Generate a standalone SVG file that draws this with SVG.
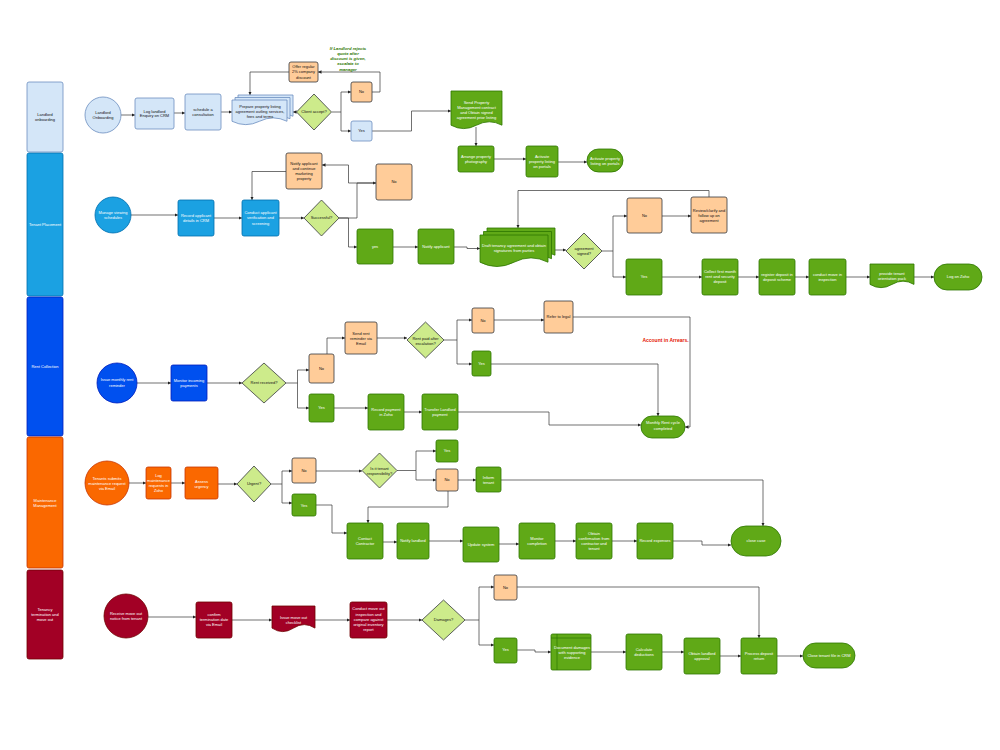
<svg xmlns="http://www.w3.org/2000/svg" width="1000" height="750" viewBox="0 0 1000 750">
<defs>
<style>
.lb{fill:#d4e6f8;stroke:#6c8ebf;stroke-width:0.8}
.cy{fill:#1ba1e2;stroke:#006eaf;stroke-width:0.8}
.bl{fill:#0050ef;stroke:#001dbc;stroke-width:0.8}
.or{fill:#fa6800;stroke:#c73500;stroke-width:0.8}
.rd{fill:#a20025;stroke:#6f0000;stroke-width:0.8}
.gr{fill:#60a917;stroke:#2d7600;stroke-width:0.8}
.pe{fill:#ffcc99;stroke:#36393d;stroke-width:0.8}
.dm{fill:#cdeb8b;stroke:#36393d;stroke-width:0.8}
.t{font-family:"Liberation Sans",Arial,sans-serif;font-size:4px;text-anchor:middle}
.w{fill:#ffffff}
.k{fill:#111111}
.c{fill:none;stroke:#333333;stroke-width:0.7;marker-end:url(#a)}
.n{fill:none;stroke:#2d7600;stroke-width:0.7}
.note{font-family:"Liberation Sans",Arial,sans-serif;font-size:4.2px;font-weight:bold;font-style:italic;fill:#2d7600;text-anchor:middle}
.red{font-family:"Liberation Sans",Arial,sans-serif;font-size:5px;font-weight:bold;fill:#e51400;text-anchor:middle}
</style>
<marker id="a" viewBox="0 0 6 6" refX="6" refY="3" markerWidth="3.5" markerHeight="3.5" markerUnits="userSpaceOnUse" orient="auto"><path d="M0 0L6 3L0 6z" fill="#222"/></marker>
</defs>
<rect width="1000" height="750" fill="#ffffff"/>

<g id="lanes">
<g id="lane1"><rect class="lb" x="27" y="82" width="36" height="70" rx="2"/><text class="t k" x="45" y="116.1">Landlord<tspan x="45" dy="4.8">onboarding</tspan></text></g>
<g id="lane2"><rect class="cy" x="27" y="153" width="36" height="143" rx="2"/><text class="t w" x="45" y="226">Tenant Placement</text></g>
<g id="lane3"><rect class="bl" x="27" y="297" width="36" height="139" rx="2"/><text class="t w" x="45" y="368">Rent Collection</text></g>
<g id="lane4"><rect class="or" x="27" y="437" width="36" height="131" rx="2"/><text class="t w" x="45" y="502">Maintenance<tspan x="45" dy="4.8">Management</tspan></text></g>
<g id="lane5"><rect class="rd" x="27" y="570" width="36" height="89" rx="2"/><text class="t w" x="45" y="611">Tenancy<tspan x="45" dy="4.8">termination and</tspan><tspan x="45" dy="4.8">move out</tspan></text></g>
</g>

<g id="connectors">
<path class="c" d="M121 115H135"/>
<path class="c" d="M174 113H185"/>
<path class="c" d="M221 112H232"/>
<path class="c" d="M297 112H293"/>
<path class="c" d="M332 112H341V92H351"/>
<path class="c" d="M341 112V131H351"/>
<path class="c" d="M372 92H380V72H318"/>
<path class="c" d="M289 72H250V95"/>
<path class="c" d="M372 131H411.5V111H451"/>
<path class="c" d="M476 127V146"/>
<path class="c" d="M494 159H526"/>
<path class="c" d="M558 162H587"/>

<path class="c" d="M131 215H178"/>
<path class="c" d="M214 218H242"/>
<path class="c" d="M279 218H304"/>
<path class="c" d="M339 218H357V183H376"/>
<path class="c" d="M376 183H348.5V165H322"/>
<path class="c" d="M339 218H348.5V247H357"/>
<path class="c" d="M286 171.5H252V200"/>
<path class="c" d="M393 247H418"/>
<path class="c" d="M454 247H467V248.5H480"/>
<path class="c" d="M548 250H566"/>
<path class="c" d="M602 251H613V216H627"/>
<path class="c" d="M613 251V277H626"/>
<path class="c" d="M662 216H691"/>
<path class="c" d="M709 197V190.5H518V228"/>
<path class="c" d="M662 277H702"/>
<path class="c" d="M738 277H759"/>
<path class="c" d="M795 277H809"/>
<path class="c" d="M846 277H870"/>
<path class="c" d="M914 277H934"/>

<path class="c" d="M137 383H171"/>
<path class="c" d="M207 383H242"/>
<path class="c" d="M286 383H297.5V370H309"/>
<path class="c" d="M297.5 383V408H309"/>
<path class="c" d="M327 354V338H345"/>
<path class="c" d="M377 338H407"/>
<path class="c" d="M444 340H457V320H472"/>
<path class="c" d="M457 340V364H472"/>
<path class="c" d="M494 320H544"/>
<path class="c" d="M573 317H690V427H685"/>
<path class="c" d="M491 364H658V416"/>
<path class="c" d="M334 408H368"/>
<path class="c" d="M404 412H422"/>
<path class="c" d="M458 412H549V425H641"/>

<path class="c" d="M129 483H146"/>
<path class="c" d="M171 483H185"/>
<path class="c" d="M218 484H237"/>
<path class="c" d="M271 484H282V471H292"/>
<path class="c" d="M282 484V503H292"/>
<path class="c" d="M316 471H362"/>
<path class="c" d="M397 470.5H416V451H436"/>
<path class="c" d="M416 470.5V480H436"/>
<path class="c" d="M458 480H476"/>
<path class="c" d="M448 491V507H368V523"/>
<path class="c" d="M501 480H763V526"/>
<path class="c" d="M316 505H332V533H347"/>
<path class="c" d="M383 542H397"/>
<path class="c" d="M429 541H463"/>
<path class="c" d="M499 544H519"/>
<path class="c" d="M555 541H576"/>
<path class="c" d="M612 541H637"/>
<path class="c" d="M673 541H702V545H731"/>

<path class="c" d="M148 617H196"/>
<path class="c" d="M232 620H272"/>
<path class="c" d="M315 620H350"/>
<path class="c" d="M387 620H422"/>
<path class="c" d="M465 620H479V587H494"/>
<path class="c" d="M479 620V645H494"/>
<path class="c" d="M517 587H759V638"/>
<path class="c" d="M517 650H535V652H551"/>
<path class="c" d="M591 652H626"/>
<path class="c" d="M662 652H684"/>
<path class="c" d="M720 656H741"/>
<path class="c" d="M777 656H803"/>
</g>

<g id="n-landlord-onboarding"><circle class="lb" cx="103" cy="115" r="18"/><text class="t k" x="103" y="114.1">Landlord<tspan x="103" dy="4.8">Onboarding</tspan></text></g>
<g id="n-log-enquiry"><rect class="lb" x="135" y="98" width="39" height="31" rx="2"/><text class="t k" x="154.5" y="112.6">Log landlord<tspan x="154.5" dy="4.8">Enquiry on CRM</tspan></text></g>
<g id="n-schedule"><rect class="lb" x="185" y="94" width="36" height="36" rx="2"/><text class="t k" x="203" y="111.1">schedule a<tspan x="203" dy="4.8">consultation</tspan></text></g>
<g id="n-prepare">
<path class="lb" d="M238 95H293V116.25Q279.25 109.5 265.5 116.25Q251.75 123 238 116.25Z"/>
<path class="lb" d="M235 97.5H290V118.75Q276.25 112 262.5 118.75Q248.75 125.5 235 118.75Z"/>
<path class="lb" d="M232 100H287V121.25Q273.25 114.5 259.5 121.25Q245.75 128 232 121.25Z"/>
<text class="t k" x="260" y="108">Prepare property listing<tspan x="260" dy="5">agreement outling services,</tspan><tspan x="260" dy="5">fees and terms</tspan></text></g>
<g id="n-client-accept"><polygon class="dm" points="314,94 331.5,112 314,130 296.5,112"/><text class="t k" x="314" y="113.4">Client accept?</text></g>
<g id="n-l1-no"><rect class="pe" x="351" y="82" width="21" height="20" rx="2"/><text class="t k" x="361.5" y="93.4">No</text></g>
<g id="n-l1-yes"><rect class="lb" x="351" y="121" width="21" height="20" rx="2"/><text class="t k" x="361.5" y="132.4">Yes</text></g>
<g id="n-offer"><rect class="pe" x="289" y="62" width="29" height="20" rx="2"/><text class="t k" x="303.5" y="68.1">Offer regular<tspan x="303.5" dy="5.2">2% company</tspan><tspan x="303.5" dy="5.2">discount</tspan></text></g>
<g id="n-note"><text class="note" x="348" y="49.7">If Landlord rejects<tspan x="348" dy="5.2">quote after</tspan><tspan x="348" dy="5.2">discount is given,</tspan><tspan x="348" dy="5.2">escalate to</tspan><tspan x="348" dy="5.2">manager</tspan></text></g>
<g id="n-send-contract"><path class="gr" d="M451 91H502V125.2Q489.25 118.4 476.5 125.2Q463.75 132 451 125.2Z"/><text class="t w" x="476.5" y="103.7">Send Property<tspan x="476.5" dy="5.2">Management contract</tspan><tspan x="476.5" dy="5.2">and Obtain signed</tspan><tspan x="476.5" dy="5.2">agreement prior listing</tspan></text></g>
<g id="n-arrange-photo"><rect class="gr" x="458" y="146" width="36" height="26" rx="2"/><text class="t w" x="476" y="158">Arrange property<tspan x="476" dy="5.2">photography</tspan></text></g>
<g id="n-activate"><rect class="gr" x="526" y="146" width="32" height="31" rx="2"/><text class="t w" x="542" y="158">Activate<tspan x="542" dy="5">property listing</tspan><tspan x="542" dy="5">on portals</tspan></text></g>
<g id="n-activate-end"><rect class="gr" x="587" y="149" width="36" height="23" rx="11.5"/><text class="t w" x="605" y="159.7">Activate property<tspan x="605" dy="5">listing on portals</tspan></text></g>

<g id="n-manage-viewing"><circle class="cy" cx="113" cy="215" r="18"/><text class="t w" x="113" y="214">Manage viewing<tspan x="113" dy="5.4">schedules</tspan></text></g>
<g id="n-record-applicant"><rect class="cy" x="178" y="200" width="36" height="36" rx="2"/><text class="t w" x="196" y="217.4">Record applicant<tspan x="196" dy="4.8">details in CRM</tspan></text></g>
<g id="n-conduct-screening"><rect class="cy" x="242" y="200" width="37" height="36" rx="2"/><text class="t w" x="260.5" y="214">Conduct applicant<tspan x="260.5" dy="5.3">verification and</tspan><tspan x="260.5" dy="5.3">screening</tspan></text></g>
<g id="n-successful"><polygon class="dm" points="321.5,200 339,218 321.5,236 304,218"/><text class="t k" x="321.5" y="219.4">Successful?</text></g>
<g id="n-notify-continue"><rect class="pe" x="286" y="153" width="36" height="36" rx="2"/><text class="t k" x="304" y="165.4">Notify applicant<tspan x="304" dy="5">and continue</tspan><tspan x="304" dy="5">marketing</tspan><tspan x="304" dy="5">property</tspan></text></g>
<g id="n-l2-no"><rect class="pe" x="376" y="164" width="36" height="36" rx="2"/><text class="t k" x="394" y="183.4">No</text></g>
<g id="n-l2-yes"><rect class="gr" x="357" y="229" width="36" height="35" rx="2"/><text class="t w" x="375" y="248">yes</text></g>
<g id="n-notify-applicant"><rect class="gr" x="418" y="229" width="36" height="35" rx="2"/><text class="t w" x="436" y="248">Notify applicant</text></g>
<g id="n-draft">
<path class="gr" d="M487 228H555V255.2Q538 246.56 521 255.2Q504 263.84 487 255.2Z"/>
<path class="gr" d="M483.5 231.5H551.5V258.7Q534.5 250.06 517.5 258.7Q500.5 267.34 483.5 258.7Z"/>
<path class="gr" d="M480 235H548V262.2Q531 253.56 514 262.2Q497 270.84 480 262.2Z"/>
<text class="t w" x="514" y="247.4">Draft tenancy agreement and obtain<tspan x="514" dy="5">signatures from parties</tspan></text></g>
<g id="n-agreement-signed"><polygon class="dm" points="584,233 602,251 584,269 566,251"/><text class="t k" x="584" y="250.2">agreement<tspan x="584" dy="5">signed?</tspan></text></g>
<g id="n-l2-no2"><rect class="pe" x="627" y="198" width="35" height="35" rx="2"/><text class="t k" x="644.5" y="217">No</text></g>
<g id="n-review"><rect class="pe" x="691" y="197" width="36" height="36" rx="2"/><text class="t k" x="709" y="212">Review/clarify and<tspan x="709" dy="5.2">follow up on</tspan><tspan x="709" dy="5.2">agreement</tspan></text></g>
<g id="n-l2-yes2"><rect class="gr" x="626" y="259" width="36" height="36" rx="2"/><text class="t w" x="644" y="278.4">Yes</text></g>
<g id="n-collect"><rect class="gr" x="702" y="259" width="36" height="36" rx="2"/><text class="t w" x="720" y="273">Collect first month<tspan x="720" dy="5.2">rent and security</tspan><tspan x="720" dy="5.2">deposit</tspan></text></g>
<g id="n-register"><rect class="gr" x="759" y="259" width="36" height="36" rx="2"/><text class="t w" x="777" y="276.4">register deposit in<tspan x="777" dy="5">deposit scheme</tspan></text></g>
<g id="n-move-in"><rect class="gr" x="809" y="259" width="37" height="36" rx="2"/><text class="t w" x="827.5" y="276.4">conduct move in<tspan x="827.5" dy="5">inspection</tspan></text></g>
<g id="n-orientation"><path class="gr" d="M870 264H914V284.4Q903 277.92 892 284.4Q881 290.88 870 284.4Z"/><text class="t w" x="892" y="275.4">provide tenant<tspan x="892" dy="5">orientation pack</tspan></text></g>
<g id="n-log-zoho"><rect class="gr" x="934" y="264" width="48" height="26" rx="13"/><text class="t w" x="958" y="278.4">Log on Zoho</text></g>

<g id="n-issue-reminder"><circle class="bl" cx="117" cy="383" r="20"/><text class="t w" x="117" y="381.4">Issue monthly rent<tspan x="117" dy="5.5">reminder</tspan></text></g>
<g id="n-monitor-payments"><rect class="bl" x="171" y="365" width="36" height="36" rx="2"/><text class="t w" x="189" y="382.4">Monitor incoming<tspan x="189" dy="5">payments</tspan></text></g>
<g id="n-rent-received"><polygon class="dm" points="264,363 286,383 264,403 242,383"/><text class="t k" x="264" y="384.4">Rent received?</text></g>
<g id="n-l3-no"><rect class="pe" x="309" y="354" width="25" height="29" rx="2"/><text class="t k" x="321.5" y="369.8">No</text></g>
<g id="n-l3-yes"><rect class="gr" x="309" y="394" width="25" height="28" rx="2"/><text class="t w" x="321.5" y="409.4">Yes</text></g>
<g id="n-send-reminder"><rect class="pe" x="345" y="322" width="32" height="32" rx="2"/><text class="t k" x="361" y="334.7">Send rent<tspan x="361" dy="5.2">reminder via</tspan><tspan x="361" dy="5.2">Email</tspan></text></g>
<g id="n-rent-paid"><polygon class="dm" points="425.5,322 444,340 425.5,358 407,340"/><text class="t k" x="425.5" y="339.7">Rent paid after<tspan x="425.5" dy="5">escalation?</tspan></text></g>
<g id="n-l3-no2"><rect class="pe" x="472" y="308" width="22" height="25" rx="2"/><text class="t k" x="483" y="321.9">No</text></g>
<g id="n-l3-yes2"><rect class="gr" x="472" y="351" width="19" height="25" rx="2"/><text class="t w" x="481.5" y="364.9">Yes</text></g>
<g id="n-refer-legal"><rect class="pe" x="544" y="301" width="29" height="32" rx="2"/><text class="t k" x="558.5" y="318">Refer to legal</text></g>
<g id="n-arrears"><text class="red" x="665.5" y="341.7">Account in Arrears.</text></g>
<g id="n-record-payment"><rect class="gr" x="368" y="394" width="36" height="36" rx="2"/><text class="t w" x="386" y="410.7">Record payment<tspan x="386" dy="5">in Zoho</tspan></text></g>
<g id="n-transfer"><rect class="gr" x="422" y="394" width="36" height="36" rx="2"/><text class="t w" x="440" y="410.7">Transfer Landlord<tspan x="440" dy="5">payment</tspan></text></g>
<g id="n-rent-complete"><rect class="gr" x="641" y="416" width="44" height="22" rx="11"/><text class="t w" x="663" y="424.2">Monthly Rent cycle<tspan x="663" dy="5.4">completed</tspan></text></g>

<g id="n-tenant-submits"><circle class="or" cx="107" cy="483" r="22"/><text class="t w" x="107" y="479.7">Tenants submits<tspan x="107" dy="5">maintenance request</tspan><tspan x="107" dy="5">via Email</tspan></text></g>
<g id="n-log-maint"><rect class="or" x="146" y="467" width="25" height="32" rx="2"/><text class="t w" x="158.5" y="477">Log<tspan x="158.5" dy="5.1">maintenance</tspan><tspan x="158.5" dy="5.1">requests in</tspan><tspan x="158.5" dy="5.1">Zoho</tspan></text></g>
<g id="n-assess"><rect class="or" x="185" y="467" width="33" height="32" rx="2"/><text class="t w" x="201.5" y="483">Assess<tspan x="201.5" dy="5">urgency</tspan></text></g>
<g id="n-urgent"><polygon class="dm" points="254,466 271,484 254,502 237,484"/><text class="t k" x="254" y="485.4">Urgent?</text></g>
<g id="n-l4-no"><rect class="pe" x="292" y="458" width="24" height="25" rx="2"/><text class="t k" x="304" y="472.4">No</text></g>
<g id="n-l4-yes"><rect class="gr" x="292" y="494" width="24" height="22" rx="2"/><text class="t w" x="304" y="506.5">Yes</text></g>
<g id="n-tenant-resp"><polygon class="dm" points="379.5,453 397,470.5 379.5,488 362,470.5"/><text class="t k" x="379.5" y="469.7">Is it tenant<tspan x="379.5" dy="5">responsibility?</tspan></text></g>
<g id="n-l4-yes2"><rect class="gr" x="436" y="440" width="22" height="22" rx="2"/><text class="t w" x="447" y="452.4">Yes</text></g>
<g id="n-l4-no2"><rect class="pe" x="436" y="469" width="22" height="22" rx="2"/><text class="t k" x="447" y="481.4">No</text></g>
<g id="n-inform-tenant"><rect class="gr" x="476" y="467" width="25" height="25" rx="2"/><text class="t w" x="488.5" y="478.7">Inform<tspan x="488.5" dy="5.3">tenant</tspan></text></g>
<g id="n-contact"><rect class="gr" x="347" y="523" width="36" height="36" rx="2"/><text class="t w" x="365" y="539.7">Contact<tspan x="365" dy="5">Contractor</tspan></text></g>
<g id="n-notify-landlord"><rect class="gr" x="397" y="523" width="32" height="36" rx="2"/><text class="t w" x="413" y="542.4">Notify landlord</text></g>
<g id="n-update"><rect class="gr" x="463" y="527" width="36" height="35" rx="2"/><text class="t w" x="481" y="545.7">Update system</text></g>
<g id="n-monitor-completion"><rect class="gr" x="519" y="523" width="36" height="36" rx="2"/><text class="t w" x="537" y="539.7">Monitor<tspan x="537" dy="5">completion</tspan></text></g>
<g id="n-obtain-confirmation"><rect class="gr" x="576" y="523" width="36" height="36" rx="2"/><text class="t w" x="594" y="534.7">Obtain<tspan x="594" dy="5">confirmation from</tspan><tspan x="594" dy="5">contractor and</tspan><tspan x="594" dy="5">tenant</tspan></text></g>
<g id="n-record-expenses"><rect class="gr" x="637" y="523" width="36" height="36" rx="2"/><text class="t w" x="655" y="542.4">Record expenses</text></g>
<g id="n-close-case"><rect class="gr" x="731" y="526" width="50" height="30" rx="15"/><text class="t w" x="756" y="542.4">close case</text></g>

<g id="n-move-out-notice"><circle class="rd" cx="126" cy="616" r="22"/><text class="t w" x="126" y="614.7">Receive move out<tspan x="126" dy="5.6">notice from tenant</tspan></text></g>
<g id="n-confirm-date"><rect class="rd" x="196" y="602" width="36" height="36" rx="2"/><text class="t w" x="214" y="616.4">confirm<tspan x="214" dy="5">termination date</tspan><tspan x="214" dy="5">via Email</tspan></text></g>
<g id="n-checklist"><path class="rd" d="M272 606H315V628.1Q304.25 621.08 293.5 628.1Q282.75 635.12 272 628.1Z"/><text class="t w" x="293.5" y="618.7">Issue move out<tspan x="293.5" dy="5.3">checklist</tspan></text></g>
<g id="n-move-out-inspection"><rect class="rd" x="350" y="602" width="37" height="36" rx="2"/><text class="t w" x="368.5" y="610.4">Conduct move out<tspan x="368.5" dy="5.2">inspection and</tspan><tspan x="368.5" dy="5.2">compare against</tspan><tspan x="368.5" dy="5.2">original inventory</tspan><tspan x="368.5" dy="5.2">report</tspan></text></g>
<g id="n-damages"><polygon class="dm" points="443.5,600 465,620 443.5,640 422,620"/><text class="t k" x="443.5" y="621.4">Damages?</text></g>
<g id="n-l5-no"><rect class="pe" x="494" y="575" width="23" height="25" rx="2"/><text class="t k" x="505.5" y="588.5">No</text></g>
<g id="n-l5-yes"><rect class="gr" x="494" y="638" width="23" height="25" rx="2"/><text class="t w" x="505.5" y="651.4">Yes</text></g>
<g id="n-document-damages"><rect class="gr" x="551" y="634" width="40" height="36" rx="1.5"/><path class="n" d="M557 634V670M551 638H591"/><text class="t w" x="572" y="648.7">Document damages<tspan x="572" dy="5">with supporting</tspan><tspan x="572" dy="5">evidence</tspan></text></g>
<g id="n-calculate"><rect class="gr" x="626" y="634" width="36" height="36" rx="2"/><text class="t w" x="644" y="651.4">Calculate<tspan x="644" dy="5">deductions</tspan></text></g>
<g id="n-landlord-approval"><rect class="gr" x="684" y="638" width="36" height="36" rx="2"/><text class="t w" x="702" y="654.7">Obtain landlord<tspan x="702" dy="5.3">approval</tspan></text></g>
<g id="n-process-deposit"><rect class="gr" x="741" y="638" width="36" height="36" rx="2"/><text class="t w" x="759" y="654.7">Process deposit<tspan x="759" dy="5.3">return</tspan></text></g>
<g id="n-close-file"><rect class="gr" x="803" y="643" width="52" height="25" rx="12.5"/><text class="t w" x="829" y="656.7">Close tenant file in CRM</text></g>
</svg>
